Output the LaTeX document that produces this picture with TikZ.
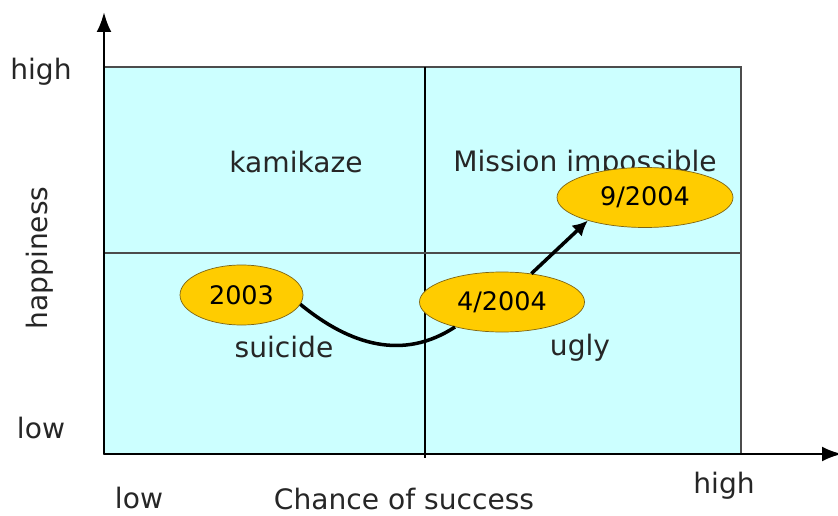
\documentclass[tikz,border=0pt]{standalone}
\usepackage{fontspec}
\setmainfont{DejaVu Sans}
\usetikzlibrary{arrows.meta,shapes.geometric}
\definecolor{quadfill}{RGB}{204,255,255}
\definecolor{stagefill}{RGB}{255,204,0}
\definecolor{stageline}{RGB}{125,100,20}
\begin{document}
\begin{tikzpicture}[x=0.2mm,y=-0.2mm,
 lbl/.style={anchor=base,font=\fontsize{16}{19}\selectfont,text=black!85},
 stage/.style={ellipse,draw=stageline,fill=stagefill,inner sep=0pt,minimum height=12mm,font=\fontsize{14.5}{17}\selectfont},
 axis/.style={line width=1.6pt,-{Latex[length=4mm,width=3mm]}},
 trend/.style={line width=2pt}]
 \useasboundingbox (0,0) rectangle (838,516);

 % quadrants
 \draw[fill=quadfill,draw=black!70,line width=0.7pt] (104,67) rectangle (741,454);
 \draw[line width=0.7pt] (425,67) -- (425,458);
 \draw[line width=0.7pt,draw=black!70] (104,253) -- (741,253);

 % axes
 \coordinate (o) at (104,454);
 \coordinate (ytip) at (104,12);
 \coordinate (xtip) at (842,454);
 \draw[axis] (o) -- (ytip);
 \draw[axis] (o) -- (xtip);

 \node[lbl] (yhigh) at (41,80) {high};
 \node[lbl] (ylow) at (41,438) {low};
 \node[lbl,anchor=center,rotate=90] (yname) at (40,258) {happiness};
 \node[lbl] (xlow) at (139,508) {low};
 \node[lbl] (xname) at (404,509) {Chance of success};
 \node[lbl] (xhigh) at (724,493) {high};

 \node[lbl] (kamikaze) at (296,173) {kamikaze};
 \node[lbl] (mission) at (585,171) {Mission impossible};
 \node[lbl] (suicide) at (284,357) {suicide};
 \node[lbl] (ugly) at (580,355) {ugly};

 % stages
 \node[stage,minimum width=24.6mm] (y2003) at (241.5,295) {2003};
 \node[stage,minimum width=33mm] (m2004) at (502,302) {4/2004};
 \node[stage,minimum width=35.2mm] (s2004) at (645,197.5) {9/2004};

 \draw[trend] (y2003.-9) .. controls (350,345) and (403,361) .. (m2004.208);
 \draw[trend,-{Latex[length=3mm,width=3mm]}] (m2004.44) -- (s2004.202);
\end{tikzpicture}
\end{document}
